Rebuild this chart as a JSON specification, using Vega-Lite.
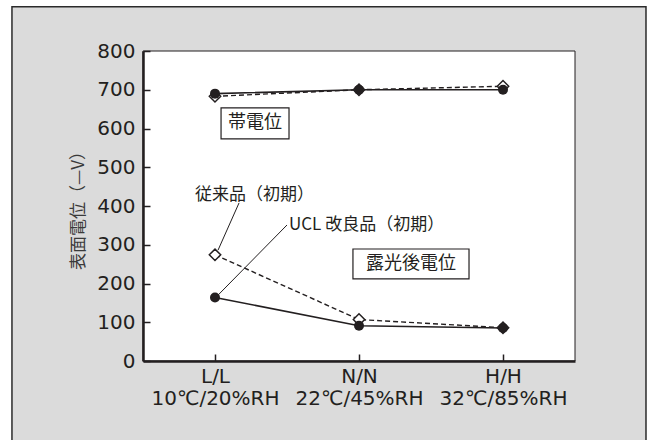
{
  "$schema": "https://vega.github.io/schema/vega-lite/v6.json",
  "width": 432,
  "height": 310,
  "autosize": {"type": "none"},
  "padding": {"left": 143, "top": 51, "right": 79, "bottom": 79},
  "background": "white",
  "view": {"stroke": null, "fill": null},
  "datasets": {
    "frame": [{"x": -1.41, "x2": 2.993, "y": -230, "y2": 914}],
    "plot": [{"x": -0.5, "x2": 2.5, "y": 0, "y2": 800}],
    "series": [
      {"x": 0, "cond": "L/L", "series": "UCL 改良品", "phase": "帯電位", "y": 690},
      {"x": 1, "cond": "N/N", "series": "UCL 改良品", "phase": "帯電位", "y": 700},
      {"x": 2, "cond": "H/H", "series": "UCL 改良品", "phase": "帯電位", "y": 700},
      {"x": 0, "cond": "L/L", "series": "従来品", "phase": "帯電位", "y": 683},
      {"x": 1, "cond": "N/N", "series": "従来品", "phase": "帯電位", "y": 700},
      {"x": 2, "cond": "H/H", "series": "従来品", "phase": "帯電位", "y": 709},
      {"x": 0, "cond": "L/L", "series": "UCL 改良品", "phase": "露光後電位", "y": 164},
      {"x": 1, "cond": "N/N", "series": "UCL 改良品", "phase": "露光後電位", "y": 91},
      {"x": 2, "cond": "H/H", "series": "UCL 改良品", "phase": "露光後電位", "y": 85},
      {"x": 0, "cond": "L/L", "series": "従来品", "phase": "露光後電位", "y": 274},
      {"x": 1, "cond": "N/N", "series": "従来品", "phase": "露光後電位", "y": 107},
      {"x": 2, "cond": "H/H", "series": "従来品", "phase": "露光後電位", "y": 86}
    ],
    "boxes": [
      {"x": 0.042, "x2": 0.514, "y": 573, "y2": 653, "tx": 0.278, "ty": 613, "label": "帯電位"},
      {"x": 0.958, "x2": 1.764, "y": 212, "y2": 289, "tx": 1.361, "ty": 250, "label": "露光後電位"}
    ],
    "leaders": [
      {"x": 0.167, "y": 408, "x2": 0.021, "y2": 286},
      {"x": 0.5, "y": 351, "x2": 0.021, "y2": 170}
    ],
    "labels": [
      {"x": -0.139, "y": 428, "text": "従来品（初期）"},
      {"x": 0.514, "y": 351, "text": "UCL 改良品（初期）"}
    ]
  },
  "encoding": {
    "x": {
      "field": "x",
      "type": "quantitative",
      "scale": {"domain": [-0.5, 2.5], "nice": false, "zero": false},
      "axis": {
        "values": [0, 1, 2],
        "labelExpr": "datum.value == 0 ? ['L/L', '10℃/20%RH'] : datum.value == 1 ? ['N/N', '22℃/45%RH'] : ['H/H', '32℃/85%RH']",
        "labelFont": "DejaVu Sans",
        "labelFontSize": 20,
        "labelColor": "#231f20",
        "labelLineHeight": 22,
        "labelPadding": 12,
        "labelFlush": false,
        "labelOverlap": false,
        "tickSize": -7,
        "tickWidth": 1.5,
        "tickColor": "#231f20",
        "domainWidth": 2.5,
        "domainColor": "#231f20",
        "grid": false,
        "title": null,
        "zindex": 1
      }
    },
    "y": {
      "field": "y",
      "type": "quantitative",
      "scale": {"domain": [0, 800], "nice": false},
      "axis": {
        "values": [0, 100, 200, 300, 400, 500, 600, 700, 800],
        "labelFont": "DejaVu Sans",
        "labelFontSize": 20,
        "labelColor": "#231f20",
        "labelPadding": 15,
        "tickSize": -7,
        "tickWidth": 1.5,
        "tickColor": "#231f20",
        "domainWidth": 2.5,
        "domainColor": "#231f20",
        "grid": false,
        "title": "表面電位（—V）",
        "titleFont": "Noto Sans CJK JP",
        "titleFontSize": 17,
        "titleFontWeight": "normal",
        "titleColor": "#3a3a3a",
        "titlePadding": 9,
        "zindex": 1
      }
    }
  },
  "layer": [
    {
      "data": {"name": "frame"},
      "mark": {"type": "rect", "fill": "#dbdbdb", "stroke": "#2b2b2b", "strokeWidth": 1.5},
      "encoding": {"x2": {"field": "x2"}, "y2": {"field": "y2"}}
    },
    {
      "data": {"name": "plot"},
      "mark": {"type": "rect", "fill": "white", "stroke": "#231f20", "strokeWidth": 1},
      "encoding": {"x2": {"field": "x2"}, "y2": {"field": "y2"}}
    },
    {
      "data": {"name": "leaders"},
      "mark": {"type": "rule", "stroke": "#231f20", "strokeWidth": 1},
      "encoding": {"x2": {"field": "x2"}, "y2": {"field": "y2"}}
    },
    {
      "data": {"name": "boxes"},
      "mark": {"type": "rect", "fill": "white", "stroke": "#231f20", "strokeWidth": 1.2},
      "encoding": {"x2": {"field": "x2"}, "y2": {"field": "y2"}}
    },
    {
      "data": {"name": "boxes"},
      "mark": {"type": "text", "font": "Noto Sans CJK JP", "fontSize": 18, "color": "#231f20", "align": "center", "baseline": "middle"},
      "encoding": {"x": {"field": "tx", "type": "quantitative"}, "y": {"field": "ty", "type": "quantitative"}, "text": {"field": "label"}}
    },
    {
      "data": {"name": "labels"},
      "mark": {"type": "text", "font": "Noto Sans CJK JP", "fontSize": 17, "color": "#231f20", "align": "left", "baseline": "middle"},
      "encoding": {"text": {"field": "text"}}
    },
    {
      "data": {"name": "series"},
      "transform": [{"filter": "datum.series == '従来品'"}],
      "mark": {"type": "line", "stroke": "#231f20", "strokeWidth": 1.4, "strokeDash": [5, 3]},
      "encoding": {"detail": {"field": "phase"}}
    },
    {
      "data": {"name": "series"},
      "transform": [{"filter": "datum.series == 'UCL 改良品'"}],
      "mark": {"type": "line", "stroke": "#231f20", "strokeWidth": 1.6},
      "encoding": {"detail": {"field": "phase"}}
    },
    {
      "data": {"name": "series"},
      "transform": [{"filter": "datum.series == '従来品'"}],
      "mark": {"type": "point", "shape": "diamond", "size": 130, "filled": true, "fill": "white", "stroke": "#231f20", "strokeWidth": 1.5, "opacity": 1}
    },
    {
      "data": {"name": "series"},
      "transform": [{"filter": "datum.series == 'UCL 改良品'"}],
      "mark": {"type": "point", "shape": "circle", "size": 100, "filled": true, "fill": "#231f20", "stroke": null, "opacity": 1}
    }
  ]
}
